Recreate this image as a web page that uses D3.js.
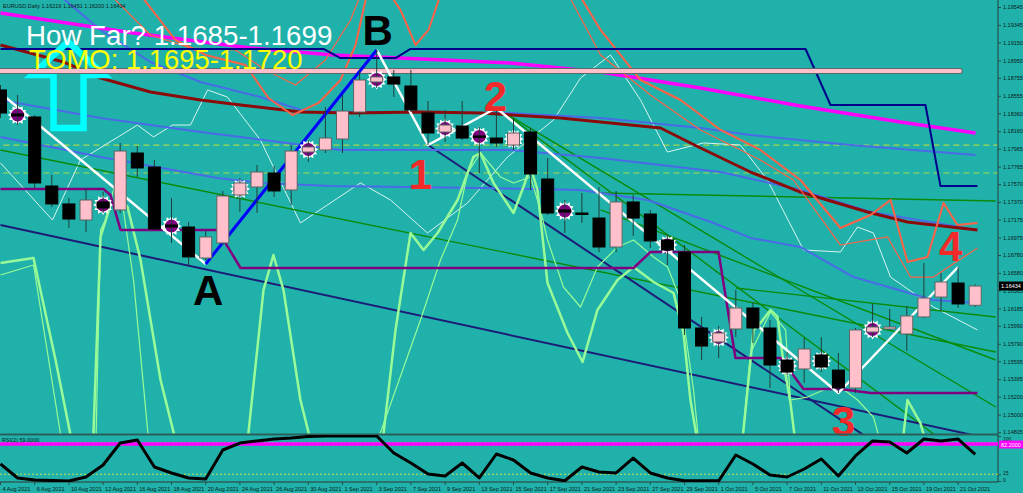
<!DOCTYPE html>
<html>
<head>
<meta charset="utf-8">
<script src="https://cdn.jsdelivr.net/npm/d3@7"></script>
<style>
body { margin: 0; background: #20b2aa; overflow: hidden; }
svg { display: block; }
text { font-family: "Liberation Sans", Arial, sans-serif; }
</style>
</head>
<body>
<div id="chart"></div>
<script>
// daily bars, EURUSD
var dates = ["2021-08-04","2021-08-05","2021-08-06","2021-08-09","2021-08-10","2021-08-11","2021-08-12","2021-08-13",
  "2021-08-16","2021-08-17","2021-08-18","2021-08-19","2021-08-20","2021-08-23","2021-08-24","2021-08-25","2021-08-26",
  "2021-08-27","2021-08-30","2021-08-31","2021-09-01","2021-09-02","2021-09-03","2021-09-06","2021-09-07","2021-09-08",
  "2021-09-09","2021-09-10","2021-09-13","2021-09-14","2021-09-15","2021-09-16","2021-09-17","2021-09-20","2021-09-21",
  "2021-09-22","2021-09-23","2021-09-24","2021-09-27","2021-09-28","2021-09-29","2021-09-30","2021-10-01","2021-10-04",
  "2021-10-05","2021-10-06","2021-10-07","2021-10-08","2021-10-11","2021-10-12","2021-10-13","2021-10-14","2021-10-15",
  "2021-10-18","2021-10-19","2021-10-20","2021-10-21","2021-10-22"];

var opens = [1.18620,1.18352,1.18319,1.17549,1.17349,1.17170,1.17371,1.17282,1.17917,1.17761,1.17114,1.17092,1.16746,
  1.16914,1.17449,1.17538,1.17694,1.17505,1.17928,1.17951,1.18073,1.18374,1.18709,1.18765,1.18664,1.18363,1.18151,
  1.18218,1.18107,1.18084,1.18006,1.18151,1.17627,1.17282,1.17248,1.17192,1.16869,1.17371,1.17237,1.16947,1.16813,
  1.15966,1.15810,1.15955,1.16189,1.15966,1.15609,1.15509,1.15665,1.15497,1.15297,1.15921,1.15955,1.15899,1.16089,
  1.16311,1.16467,1.16219];
var highs = [1.18675,1.18564,1.18341,1.17672,1.17415,1.17527,1.17483,1.18029,1.17995,1.17839,1.17415,1.17148,1.17047,
  1.17494,1.17638,1.17783,1.17772,1.18006,1.18062,1.18430,1.18564,1.18831,1.19066,1.18843,1.18843,1.18497,1.18397,
  1.18497,1.18207,1.18419,1.18307,1.18196,1.17861,1.17393,1.17471,1.17538,1.17494,1.17449,1.17282,1.17003,1.16891,
  1.16089,1.15989,1.16389,1.16245,1.16055,1.15698,1.15854,1.15865,1.15687,1.15966,1.16234,1.16178,1.16211,1.16691,
  1.16579,1.16646,1.16451];
var lows = [1.18307,1.18229,1.17527,1.17315,1.17081,1.17036,1.17248,1.17248,1.17650,1.17059,1.16914,1.16668,1.16724,
  1.16891,1.17259,1.17248,1.17427,1.17337,1.17817,1.17917,1.17917,1.18319,1.18642,1.18542,1.18374,1.18006,1.18040,
  1.18062,1.17694,1.17984,1.17951,1.17505,1.17226,1.17025,1.17137,1.16813,1.16813,1.16992,1.16858,1.16668,1.15888,
  1.15609,1.15631,1.15865,1.15799,1.15297,1.15442,1.15353,1.15475,1.15241,1.15241,1.15865,1.15944,1.15709,1.16077,
  1.16155,1.16189,1.16200];
var closes = [1.18363,1.18330,1.17583,1.17349,1.17181,1.17393,1.17304,1.17939,1.17750,1.17070,1.17092,1.16758,1.16981,
  1.17438,1.17583,1.17705,1.17494,1.17939,1.17984,1.18084,1.18385,1.18731,1.18765,1.18686,1.18397,1.18140,1.18229,
  1.18084,1.18096,1.18029,1.18140,1.17683,1.17248,1.17259,1.17245,1.16869,1.17371,1.17192,1.16936,1.16836,1.15966,
  1.15765,1.15910,1.16189,1.15966,1.15553,1.15475,1.15732,1.15531,1.15297,1.15944,1.15977,1.15977,1.16100,1.16300,
  1.16479,1.16234,1.16434];

// bars carrying the purple "sun" marker
var starBars = [1,6,10,14,18,22,26,28,30,33,39,42,46,48,51];

// RSI(2) per bar
var rsi = [37.8,6.7,2.2,1.0,0,8.9,35.6,84.4,91.1,31.1,17.8,6.7,4.4,68.9,84.4,88.9,93.3,95.6,98.9,100,100,100,100,
  62.2,40,15.6,11.1,40,6.7,60,46.7,17.8,6.7,0.5,31.1,20,17.8,51.1,17.8,6.7,0.5,0.3,0.3,57.8,37.8,13.3,8.9,26.7,48.9,
  11.1,55.6,88.9,86.7,62.2,93.3,88.9,93.3,59.0];
var rsiLevels = [85, 15];
var rsiMark = 82.2;

var priceTicks = [1.19545,1.19345,1.19150,1.18950,1.18755,1.18555,1.18360,1.18160,1.17965,1.17765,1.17570,1.17370,
  1.17175,1.16975,1.16780,1.16580,1.16385,1.16185,1.15990,1.15790,1.15595,1.15395,1.15200,1.15000,1.14805];
var rsiTicks = [100, 15, 0];

// indicator lines, [bar index, price]
var magentaMA = [[0,1.19478],[7.78,1.19255],[14.62,1.19088],[19.47,1.19010],[29.82,1.18921],[35.09,1.18820],
  [40.94,1.18642],[46.78,1.18441],[52.63,1.18263],[57.02,1.18140]];
var maroonMA = [[0,1.19121],[3.68,1.18932],[5.85,1.18753],[8.77,1.18597],[11.7,1.18508],[14.04,1.18452],[17.54,1.18374],
  [20.47,1.18363],[24.56,1.18374],[28.07,1.18363],[32.75,1.18307],[38.6,1.18196],[40.94,1.17973],[43.86,1.17705],
  [46.78,1.17482],[50.7,1.17259],[53.04,1.17148],[57.13,1.17059]];
var blueUpper = [[3.22,1.19712],[5.85,1.19289],[8.77,1.18932],[11.7,1.18709],[15.2,1.18541],[17.95,1.18374],
  [23.39,1.18374],[29.82,1.18363],[35.09,1.18307],[40.94,1.18196],[43.86,1.18118],[49.71,1.18006],[57.02,1.17895]];
var blueMid = [[0,1.18508],[5.85,1.18307],[11.7,1.18151],[14.04,1.18096],[19.88,1.17951],[29.82,1.17951],
  [35.09,1.17861],[42.11,1.17705],[46.78,1.17505],[50.88,1.17259],[57.13,1.17059]];
var blueLower = [[0,1.18096],[5.85,1.17873],[12.69,1.17638],[15.2,1.17583],[19.3,1.17549],[28.07,1.17527],
  [33.92,1.17505],[37.84,1.17393],[41.7,1.17137],[43.86,1.16970],[46.78,1.16869],[49.88,1.16534],[54.56,1.16278],
  [57.13,1.16245]];
var navyStep = [[0,1.19077],[18.89,1.19077],[19.88,1.18976],[23.1,1.18976],[23.98,1.19077],[47.08,1.19077],
  [48.54,1.18452],[54.09,1.18452],[54.97,1.17549],[57.13,1.17549]];
var purpleStep = [[0,1.17516],[6.02,1.17516],[6.43,1.17449],[7.02,1.17059],[12.69,1.17059],[14.04,1.16635],
  [37.02,1.16635],[38.01,1.16813],[41.99,1.16813],[42.98,1.15631],[45.61,1.15631],[46.96,1.15286],[49.12,1.15286],
  [50.88,1.15241],[57.13,1.15241]];
var thinEnvelope = [[0,1.17806],[3.04,1.17170],[4.68,1.17839],[8.01,1.18229],[8.95,1.18096],[10.06,1.18229],
  [11.11,1.18229],[12.11,1.18620],[13.27,1.18541],[15.2,1.18062],[17.54,1.17137],[21.05,1.17583],[22.81,1.17393],
  [24.97,1.17025],[27.31,1.17360],[29.65,1.17873],[32.34,1.18285],[33.92,1.18753],[35.67,1.19010],[37.43,1.18508],
  [39.0,1.17928],[41.11,1.18029],[43.27,1.18006],[44.85,1.17616],[46.96,1.16836],[49.12,1.16813],[50.12,1.17092],
  [51.05,1.17025],[52.05,1.16534],[54.56,1.16200],[57.13,1.15944]];
var tomatoA = [[8.19,1.19679],[10.23,1.19177],[11.99,1.19010],[14.33,1.18898],[15.67,1.18530],[17.08,1.18341],
  [18.6,1.18475],[19.88,1.18731],[20.76,1.19121],[21.35,1.19623],[22.22,1.19846],[23.39,1.19512],[24.27,1.19121],
  [25.03,1.19289],[26.02,1.19846],[33.33,1.19846],[35.09,1.19289],[37.43,1.18731],[39.77,1.18508],[42.11,1.18174],
  [44.44,1.17951],[46.78,1.17616],[49.12,1.17081],[50.88,1.17226],[52.05,1.17393],[53.04,1.16702],[54.21,1.16758],
  [55.15,1.17360],[55.96,1.17114],[57.13,1.17137]];
var tomatoB = [[6.43,1.19679],[8.77,1.19233],[11.11,1.19088],[13.74,1.19066],[15.5,1.18843],[17.25,1.18675],
  [19.0,1.18954],[20.47,1.19400],[21.05,1.19679],[32.75,1.19846],[35.09,1.19010],[38.01,1.18564],[40.94,1.18174],
  [44.44,1.17839],[46.37,1.17616],[49.12,1.16891],[51.87,1.16981],[53.22,1.16534],[54.56,1.16534],[57.13,1.16858]];
var paleGreenA = [[0,1.16691],[1.93,1.16746],[3.22,1.15609],[4.39,1.1449],[5.38,1.1449],[5.85,1.16981],[6.43,1.17337],
  [7.02,1.17393],[7.43,1.17315],[8.19,1.16724],[9.36,1.15386],[10.53,1.1449],[14.33,1.1449],[15.38,1.16389],
  [15.96,1.16780],[16.55,1.16389],[17.54,1.15163],[18.42,1.1449],[22.22,1.1449],[23.1,1.15944],[23.98,1.17025],
  [24.74,1.16836],[25.56,1.17025],[26.73,1.17393],[27.66,1.17873],[28.07,1.17917],[28.83,1.17583],[30.0,1.17248],
  [30.58,1.17538],[30.99,1.17761],[31.4,1.17505],[31.99,1.16467],[33.16,1.15910],[34.04,1.15587],[34.91,1.16167],
  [36.08,1.16501],[37.02,1.16646],[38.19,1.16479],[39.36,1.16356],[39.94,1.15910],[40.35,1.15163],[40.94,1.1449],
  [43.27,1.1449],[44.04,1.15944],[44.44,1.16022],[45.03,1.16167],[45.44,1.16089],[45.79,1.15576],[46.2,1.15129],
  [46.61,1.1449],[52.63,1.1449],[53.04,1.15163],[53.8,1.14906],[54.39,1.1449],[57.13,1.1449]];
var paleGreenB = [[0,1.16557],[1.93,1.16668],[3.51,1.14784],[4.09,1.1449],[5.56,1.1449],[5.85,1.17059],[6.14,1.17170],
  [6.61,1.17505],[7.02,1.17505],[7.78,1.16501],[8.77,1.1449],[21.64,1.1449],[24.56,1.16055],[25.73,1.16724],
  [26.73,1.17170],[27.31,1.17694],[28.07,1.17917],[29.24,1.17650],[30.0,1.17583],[30.99,1.17650],[31.58,1.17282],
  [31.99,1.16947],[32.92,1.16423],[33.92,1.16200],[34.91,1.16646],[36.08,1.16869],[37.02,1.16947],[38.19,1.16758],
  [39.01,1.16646],[39.77,1.16278],[40.53,1.15275],[40.94,1.1449],[43.27,1.1449],[43.86,1.15687],[45.03,1.16145],
  [45.91,1.15944],[46.2,1.15163],[47.19,1.15196],[48.13,1.15275],[49.12,1.15308],[50.12,1.15163],[51.05,1.14973],
  [51.75,1.1449],[57.13,1.1449]];

// trend lines
var greenLines = [
  [[0,1.17951],[58.2,1.15698]],
  [[35.1,1.17471],[58.2,1.17382]],
  [[43.0,1.16412],[58.2,1.16089]],
  [[35.1,1.17282],[58.2,1.15609]],
  [[29.5,1.18363],[58.2,1.15085]],
  [[29.5,1.18363],[58.2,1.14265]]
];
var navyLines = [
  [[0,1.17114],[58.2,1.14717]],
  [[25,1.18006],[58.2,1.13792]]
];
var levelLines = [1.18006, 1.17694];  // dashed
var pinkLevel = {price: 1.18831, end: 56.1};

// wave count
var zigWhiteA = [[0,1.18586],[12,1.16680]];
var zigBlue = [[12,1.16680],[22,1.19066]];
var zigWhiteB = [[22,1.19066],[25,1.18006],[29,1.18419],[49,1.15241],[56,1.16646]];
var waveLabels = [
  {t: "A", i: 12.14, p: 1.16222, c: "#000000"},
  {t: "B", i: 22.05, p: 1.19121, c: "#000000"},
  {t: "1", i: 24.56, p: 1.17516, c: "#f42a2a"},
  {t: "2", i: 28.95, p: 1.18385, c: "#f42a2a"},
  {t: "3", i: 49.3, p: 1.14762, c: "#f42a2a"},
  {t: "4", i: 55.56, p: 1.16713, c: "#f42a2a"}
];
var arrowAnchor = {i: 3.95, top: 1.19155, bottom: 1.18196};

var W = 1023, H = 493;
var axisX = 998, mainBottom = 434;

var svg = d3.select("#chart").append("svg")
    .attr("width", W)
    .attr("height", H);

svg.append("rect").attr("width", W).attr("height", H).attr("fill", "#20b2aa");

var x = d3.scaleLinear().domain([0, 58]).range([0.5, 992.3]);
var y = d3.scaleLinear().domain([1.14784, 1.19623]).range([mainBottom, 0]);
var yr = d3.scaleLinear().domain([0, 100]).range([481, 436]);

var defs = svg.append("defs");
defs.append("clipPath").attr("id", "clipMain")
    .append("rect").attr("x", 0).attr("y", 0).attr("width", axisX).attr("height", mainBottom);
defs.append("clipPath").attr("id", "clipRsi")
    .append("rect").attr("x", 0).attr("y", 435).attr("width", axisX).attr("height", 47);

var main = svg.append("g").attr("clip-path", "url(#clipMain)");
var line = d3.line().x(function (d) { return x(d[0]); }).y(function (d) { return y(d[1]); });

function drawLine(pts, color, w, dash) {
    main.append("path")
        .attr("d", line(pts))
        .attr("fill", "none")
        .attr("stroke", color)
        .attr("stroke-width", w)
        .attr("stroke-linejoin", "round")
        .attr("stroke-dasharray", dash || null);
}

// dashed levels
levelLines.forEach(function (p) { drawLine([[-1, p], [59, p]], "#a8d84a", 1.2, "6,4"); });

drawLine(thinEnvelope, "#d8f4f0", 1);
greenLines.forEach(function (l) { drawLine(l, "#0a8a0a", 1.4); });
navyLines.forEach(function (l) { drawLine(l, "#1c1c78", 2); });
drawLine(blueLower, "#4a6ae8", 2);
drawLine(blueMid, "#4a6ae8", 2);
drawLine(blueUpper, "#4a6ae8", 2);
drawLine(maroonMA, "#8b0a0a", 3);
drawLine(magentaMA, "#ff00ff", 3.5);
drawLine(paleGreenB, "#98fb98", 1.2);
drawLine(paleGreenA, "#98fb98", 2.5);
drawLine(tomatoB, "#ff6347", 1.2);
drawLine(tomatoA, "#ff6347", 2);
drawLine(purpleStep, "#800080", 2.5);
drawLine(navyStep, "#00008b", 2);

// cyan arrow
var ax = x(arrowAnchor.i), at = y(arrowAnchor.top), ab = y(arrowAnchor.bottom);
main.append("path")
    .attr("d", "M" + (ax - 14.5) + "," + ab + "L" + (ax - 14.5) + "," + (at + 33) + "L" + (ax - 36) + "," + (at + 33) +
        "L" + ax + "," + at + "L" + (ax + 36) + "," + (at + 33) + "L" + (ax + 15.5) + "," + (at + 33) +
        "L" + (ax + 15.5) + "," + ab + "Z")
    .attr("fill", "none")
    .attr("stroke", "#00ffff")
    .attr("stroke-width", 6.5);

// pink horizontal level
main.append("line")
    .attr("x1", x(-1)).attr("x2", x(pinkLevel.end))
    .attr("y1", y(pinkLevel.price)).attr("y2", y(pinkLevel.price))
    .attr("stroke", "#5a6a6a").attr("stroke-width", 6).attr("stroke-linecap", "round");
main.append("line")
    .attr("x1", x(-1)).attr("x2", x(pinkLevel.end))
    .attr("y1", y(pinkLevel.price)).attr("y2", y(pinkLevel.price))
    .attr("stroke", "#ffc0cb").attr("stroke-width", 4).attr("stroke-linecap", "round");

// wave lines
drawLine(zigWhiteA, "#ffffff", 2.5);
drawLine(zigWhiteB, "#ffffff", 2.5);
drawLine(zigBlue, "#0000ff", 3);

// sun markers
var star = d3.range(24).map(function (k) {
    var r = k % 2 === 0 ? 10 : 7.2, a = k * Math.PI / 12;
    return [Math.sin(a) * r, -Math.cos(a) * r];
});
var markers = main.selectAll(".sun")
    .data(starBars)
    .enter().append("g")
    .attr("class", "sun")
    .attr("transform", function (i) { return "translate(" + x(i) + "," + y((opens[i] + closes[i]) / 2) + ")"; });
markers.append("polygon")
    .attr("points", star.map(function (p) { return p.join(","); }).join(" "))
    .attr("fill", "#ffffff");
markers.append("circle").attr("r", 6.5).attr("fill", "#800080");

// candles
var bars = d3.range(dates.length);
main.selectAll(".wick")
    .data(bars)
    .enter().append("line")
    .attr("class", "wick")
    .attr("x1", function (i) { return x(i); })
    .attr("x2", function (i) { return x(i); })
    .attr("y1", function (i) { return y(highs[i]); })
    .attr("y2", function (i) { return y(lows[i]); })
    .attr("stroke", "#1e3d3a")
    .attr("stroke-width", 1);
main.selectAll(".body")
    .data(bars)
    .enter().append("rect")
    .attr("class", "body")
    .attr("x", function (i) { return x(i) - 6; })
    .attr("width", 12)
    .attr("y", function (i) { return y(Math.max(opens[i], closes[i])); })
    .attr("height", function (i) { return Math.max(1.5, Math.abs(y(opens[i]) - y(closes[i]))); })
    .attr("fill", function (i) { return closes[i] >= opens[i] ? "#ffc0cb" : "#000000"; })
    .attr("stroke", function (i) { return closes[i] >= opens[i] ? "#5a6464" : "#000000"; })
    .attr("stroke-width", 1);

// wave labels
svg.selectAll(".wave")
    .data(waveLabels)
    .enter().append("text")
    .attr("class", "wave")
    .attr("x", function (d) { return x(d.i); })
    .attr("y", function (d) { return y(d.p); })
    .attr("text-anchor", "middle")
    .attr("font-size", 42)
    .attr("font-weight", "bold")
    .attr("fill", function (d) { return d.c; })
    .text(function (d) { return d.t; });

// headline texts
svg.append("text").attr("x", 26).attr("y", 44.5).attr("font-size", 27.7).attr("fill", "#ffffff")
    .text("How Far? 1.1685-1.1699");
svg.append("text").attr("x", 29).attr("y", 68.5).attr("font-size", 27.4).attr("fill", "#ffff00")
    .text("TOMO: 1.1695-1.1720");
svg.append("text").attr("x", 3).attr("y", 8).attr("font-size", 5.5).attr("fill", "#0a1a1a")
    .text("EURUSD,Daily  1.16219 1.16451 1.16200 1.16434");

// panel frames
svg.append("line").attr("x1", 0).attr("x2", axisX).attr("y1", 434.5).attr("y2", 434.5)
    .attr("stroke", "#2a5e5a").attr("stroke-width", 2);
svg.append("line").attr("x1", 0).attr("x2", axisX).attr("y1", 482).attr("y2", 482)
    .attr("stroke", "#2a5e5a").attr("stroke-width", 1.5);
svg.append("line").attr("x1", axisX).attr("x2", axisX).attr("y1", 0).attr("y2", 482)
    .attr("stroke", "#24504c").attr("stroke-width", 1.2);

// RSI panel
var rsiG = svg.append("g").attr("clip-path", "url(#clipRsi)");
rsiLevels.forEach(function (v) {
    rsiG.append("line").attr("x1", 0).attr("x2", axisX).attr("y1", yr(v)).attr("y2", yr(v))
        .attr("stroke", "#c8e050").attr("stroke-width", 1).attr("stroke-dasharray", "2,2");
});
rsiG.append("line").attr("x1", 0).attr("x2", axisX).attr("y1", yr(rsiMark)).attr("y2", yr(rsiMark))
    .attr("stroke", "#ff00ff").attr("stroke-width", 3.5);
rsiG.append("path")
    .attr("d", d3.line().x(function (d, i) { return x(i); }).y(function (d) { return yr(d); })(rsi))
    .attr("fill", "none").attr("stroke", "#000000").attr("stroke-width", 3).attr("stroke-linejoin", "round");
svg.append("text").attr("x", 2).attr("y", 442).attr("font-size", 5.5).attr("fill", "#0a1a1a")
    .text("RSI(2) " + rsi[rsi.length - 1].toFixed(4));

// price axis
var yAxis = d3.axisRight(y).tickValues(priceTicks).tickSize(3).tickPadding(2).tickFormat(d3.format(".5f"));
var gy = svg.append("g").attr("transform", "translate(" + axisX + ",0)").call(yAxis);
gy.select(".domain").remove();
gy.selectAll("line").attr("stroke", "#24504c");
gy.selectAll("text").attr("font-size", 5.5).attr("fill", "#0a1a1a").attr("font-family", "Liberation Sans, Arial");

var rAxis = d3.axisRight(yr).tickValues(rsiTicks).tickSize(3).tickPadding(2);
var gr = svg.append("g").attr("transform", "translate(" + axisX + ",0)").call(rAxis);
gr.select(".domain").remove();
gr.selectAll("line").attr("stroke", "#24504c");
gr.selectAll("text").attr("font-size", 5).attr("fill", "#0a1a1a").attr("font-family", "Liberation Sans, Arial")
    .attr("dy", function (d) { return d === 100 ? "0.95em" : d === 0 ? "0.1em" : "0.05em"; });

// current price and RSI marker boxes
svg.append("rect").attr("x", axisX + 1).attr("y", y(closes[57]) - 4.5).attr("width", 24).attr("height", 9).attr("fill", "#000");
svg.append("text").attr("x", axisX + 3).attr("y", y(closes[57]) + 2).attr("font-size", 5.5).attr("fill", "#fff")
    .text(closes[57].toFixed(5));
svg.append("rect").attr("x", axisX + 1).attr("y", yr(rsiMark) - 3.5).attr("width", 24).attr("height", 8).attr("fill", "#ff00ff");
svg.append("text").attr("x", axisX + 3).attr("y", yr(rsiMark) + 2.5).attr("font-size", 5.5).attr("fill", "#fff")
    .text(rsiMark.toFixed(4));

// date axis
var parse = d3.timeParse("%Y-%m-%d"), fmt = d3.timeFormat("%-d %b %Y");
var dateTicks = bars.filter(function (i) { return i % 2 === 0; });
var gx = svg.append("g").attr("transform", "translate(0,482)");
gx.selectAll("line").data(dateTicks).enter().append("line")
    .attr("x1", function (i) { return x(i); }).attr("x2", function (i) { return x(i); })
    .attr("y1", 0).attr("y2", 3).attr("stroke", "#24504c");
gx.selectAll("text").data(dateTicks).enter().append("text")
    .attr("x", function (i) { return x(i) + 2; }).attr("y", 9)
    .attr("font-size", 5.5).attr("fill", "#0a1a1a")
    .text(function (i) { return fmt(parse(dates[i])); });
</script>
</body>
</html>
